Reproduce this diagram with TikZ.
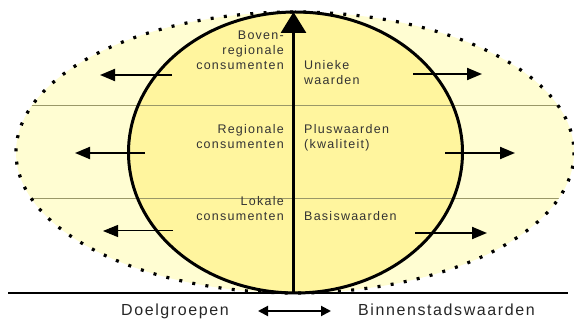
\documentclass[tikz,border=0pt]{standalone}
\usepackage{fontspec}
\setmainfont{Liberation Sans}
\newfontfamily\innerfont[LetterSpace=10]{Liberation Sans}
\newfontfamily\bottomfont[LetterSpace=10]{Liberation Sans}
\usetikzlibrary{arrows.meta}
\definecolor{outerfill}{HTML}{FFFDD2}
\definecolor{innerfill}{HTML}{FFF59E}
\definecolor{bandline}{HTML}{9A9868}
\definecolor{txt}{HTML}{333333}
\tikzset{
  lefttext/.style={anchor=base east,inner sep=0pt,align=right,text=txt,font=\innerfont\fontsize{12.5}{15}\selectfont},
  righttext/.style={anchor=base west,inner sep=0pt,align=left,text=txt,font=\innerfont\fontsize{12.5}{15}\selectfont},
  bottomtext/.style={anchor=base west,inner sep=0pt,text=black!85,font=\bottomfont\fontsize{16}{18}\selectfont},
  sidearrow/.style={line width=2pt,-{Triangle[length=15pt,width=12pt]}},
  thinarrow/.style={line width=1pt,-{Triangle[length=15pt,width=12pt]}},
}
\begin{document}
\begin{tikzpicture}[x=1pt,y=-1pt]
\useasboundingbox (0,0) rectangle (574,320);
% outer and inner fills
\fill[outerfill] (295,152.5) ellipse [x radius=279, y radius=140.5];
\fill[innerfill] (295.5,152.5) ellipse [x radius=167, y radius=140.5];
% band lines clipped to the outer ellipse
\begin{scope}
  \clip (295,152.5) ellipse [x radius=279, y radius=140.5];
  \draw[bandline,line width=1pt] (0,106) -- (574,106);
  \draw[bandline,line width=1pt] (0,199) -- (574,199);
\end{scope}
% borders
\draw[line width=3pt] (295.5,152.5) ellipse [x radius=167, y radius=140.5];
\draw[line width=3.2pt,dash pattern=on 3pt off 10.3pt] (295,152.5) ellipse [x radius=279, y radius=140.5];
% baseline
\coordinate (bl) at (8,293);
\coordinate (br) at (568,293);
\draw[line width=2pt] (bl) -- (br);
% vertical arrow
\coordinate (vb) at (293.5,293);
\coordinate (vt) at (293.5,12);
\draw[line width=3pt,-{Triangle[length=21pt,width=25pt]}] (vb) -- (vt);
% side arrows
\coordinate (a1s) at (172,75);  \coordinate (a1e) at (100,75);
\coordinate (a2s) at (145,153); \coordinate (a2e) at (75,153);
\coordinate (a3s) at (173,231); \coordinate (a3e) at (103,231);
\coordinate (b1s) at (413,74);  \coordinate (b1e) at (482,74);
\coordinate (b2s) at (445,153); \coordinate (b2e) at (515,153);
\coordinate (b3s) at (415,233); \coordinate (b3e) at (487,233);
\draw[sidearrow] (a1s) -- (a1e);
\draw[sidearrow] (a2s) -- (a2e);
\draw[thinarrow] (a3s) -- (a3e);
\draw[sidearrow] (b1s) -- (b1e);
\draw[sidearrow] (b2s) -- (b2e);
\draw[sidearrow] (b3s) -- (b3e);
% left texts
\node[lefttext] (l1) at (284,70) {Boven-\\regionale\\consumenten};
\node[lefttext] (l2) at (284,149) {Regionale\\consumenten};
\node[lefttext] (l3) at (284,221) {Lokale\\consumenten};
% right texts
\node[righttext] (r1) at (304,85) {Unieke\\waarden};
\node[righttext] (r2) at (304,149) {Pluswaarden\\(kwaliteit)};
\node[righttext] (r3) at (304,221) {Basiswaarden};
% bottom labels
\node[bottomtext] (dg) at (121,316) {Doelgroepen};
\node[bottomtext] (bw) at (358,316) {Binnenstadswaarden};
\coordinate (ml) at (258,311);
\coordinate (mr) at (331,311);
\draw[line width=2pt,{Triangle[length=10pt,width=10pt]}-{Triangle[length=10pt,width=10pt]}] (ml) -- (mr);
\end{tikzpicture}
\end{document}
